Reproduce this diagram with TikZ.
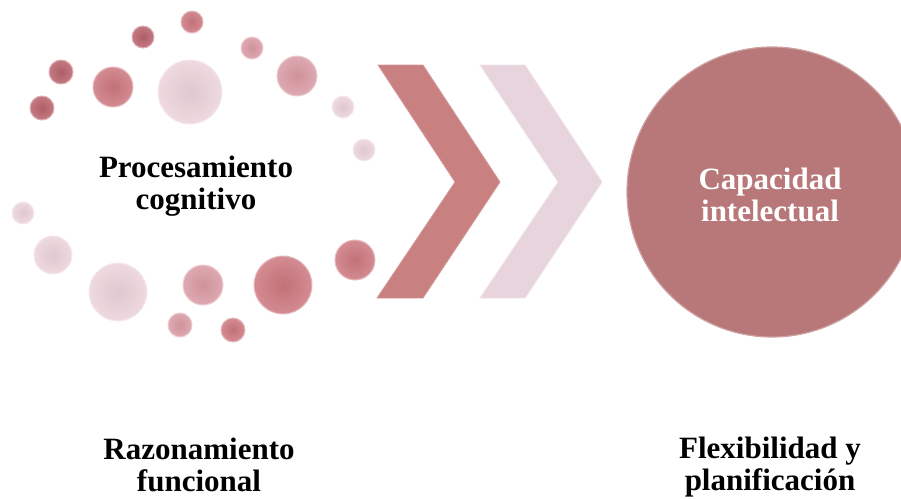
\documentclass[tikz,border=0pt]{standalone}
\usepackage{fontspec}
\setmainfont{Liberation Serif}
\definecolor{dred}{HTML}{B9626C}
\definecolor{mred}{HTML}{CC777E}
\definecolor{mpink}{HTML}{D99AA3}
\definecolor{lpink}{HTML}{EBD3DA}
\definecolor{chevA}{HTML}{C98081}
\definecolor{chevB}{HTML}{E8D4DC}
\definecolor{bigc}{HTML}{B87879}
\tikzset{
  bub/.style 2 args={circle, minimum size=#1, inner sep=0pt, draw=#2!50!white, line width=1pt,
    inner color=#2!95!black, outer color=#2!85!white},
  lbl/.style={font=\fontsize{31}{32}\selectfont\bfseries, align=center, inner sep=0pt},
}
\begin{document}
\begin{tikzpicture}[x=1pt,y=-1pt]
\useasboundingbox (0,0) rectangle (901,498);
\clip (0,0) rectangle (901,498);
% bubbles
\node[bub={22pt}{mred}]  (c1)  at (192,22)  {};
\node[bub={22pt}{dred}]  (c2)  at (143,37)  {};
\node[bub={22pt}{mpink}] (c3)  at (252,48)  {};
\node[bub={24pt}{dred}]  (c4)  at (61,72)   {};
\node[bub={40pt}{mred}]  (c5)  at (113,87)  {};
\node[bub={64pt}{lpink}] (c6)  at (190,92)  {};
\node[bub={40pt}{mpink}] (c7)  at (297,76)  {};
\node[bub={24pt}{dred}]  (c8)  at (42,108)  {};
\node[bub={22pt}{lpink}] (c9)  at (343,107) {};
\node[bub={22pt}{lpink}] (c10) at (364,150) {};
\node[bub={22pt}{lpink}] (c11) at (23,213)  {};
\node[bub={38pt}{lpink}] (c12) at (53,255)  {};
\node[bub={58pt}{lpink}] (c13) at (118,292) {};
\node[bub={40pt}{mpink}] (c14) at (203,285) {};
\node[bub={58pt}{mred}]  (c15) at (283,285) {};
\node[bub={40pt}{mred}]  (c16) at (355,260) {};
\node[bub={24pt}{mpink}] (c17) at (180,325) {};
\node[bub={24pt}{mred}]  (c18) at (233,330) {};
% chevrons
\fill[chevA, draw=chevA!80!white, line width=0.8pt] (378,65) -- (423,65) -- (500,182) -- (423,298) -- (377,298) -- (455,182) -- cycle;
\fill[chevB, draw=chevB!70!white, line width=0.8pt] (480,65) -- (525,65) -- (602,182) -- (525,298) -- (480,298) -- (558,182) -- cycle;
% big circle
\node[circle, minimum size=290pt, inner sep=0pt, fill=bigc, draw=bigc!70!white, line width=1.2pt] (cap) at (772,192) {};
% labels
\node[lbl] (proc) at (196,186) {Procesamiento\\cognitivo};
\node[lbl, text=white] (capt) at (770,195) {Capacidad\\intelectual};
\node[lbl] (raz) at (199,465) {Razonamiento\\funcional};
\node[lbl] (flex) at (770,467) {Flexibilidad y\\planificación};
\end{tikzpicture}
\end{document}
